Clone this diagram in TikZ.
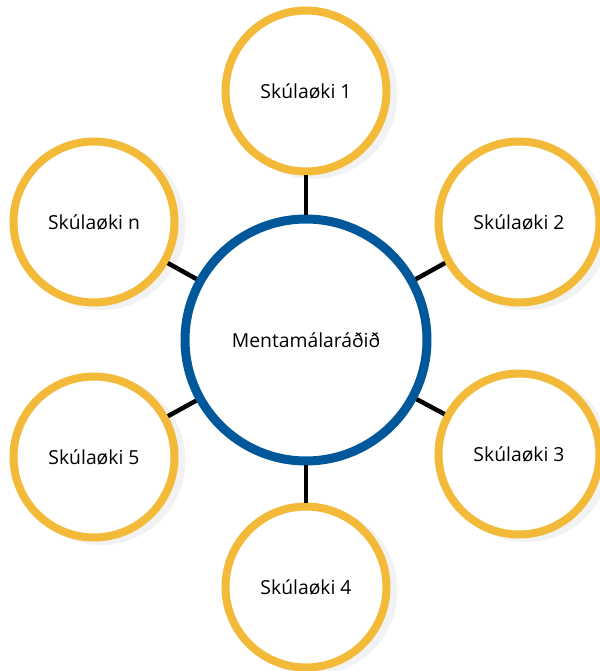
\documentclass[tikz,border=0pt]{standalone}
\usepackage{fontspec}
\setmainfont{Open Sans}
\usetikzlibrary{shadows}
\definecolor{skolagulur}{RGB}{243,186,58}
\definecolor{radblar}{RGB}{0,88,155}
\begin{document}
\begin{tikzpicture}[x=0.02cm, y=-0.02cm,
    skoli/.style={circle, draw=skolagulur, line width=0.16cm, fill=white, minimum size=3.22cm,
        font=\fontsize{11}{13}\selectfont,
        drop shadow={shadow xshift=0.14cm, shadow yshift=-0.07cm, fill=black!5, draw=black!5, opacity=1}},
    rad/.style={circle, draw=radblar, line width=0.18cm, fill=white, minimum size=4.84cm,
        font=\fontsize{11}{13}\selectfont},
    tenging/.style={line width=0.09cm, black}]
    \useasboundingbox (0,0) rectangle (599,671);

    \node[rad] (mrn) at (306,340) {Mentamálaráðið};

    \node[skoli] (s1) at (306,91) {Skúlaøki 1};
    \node[skoli] (s2) at (519,222) {Skúlaøki 2};
    \node[skoli] (s3) at (519,454) {Skúlaøki 3};
    \node[skoli] (s4) at (306,587) {Skúlaøki 4};
    \node[skoli] (s5) at (94,457) {Skúlaøki 5};
    \node[skoli] (sn) at (94,222) {Skúlaøki n};

    \foreach \s in {s1,s2,s3,s4,s5,sn}
        \draw[tenging] (mrn) -- (\s);
\end{tikzpicture}
\end{document}
